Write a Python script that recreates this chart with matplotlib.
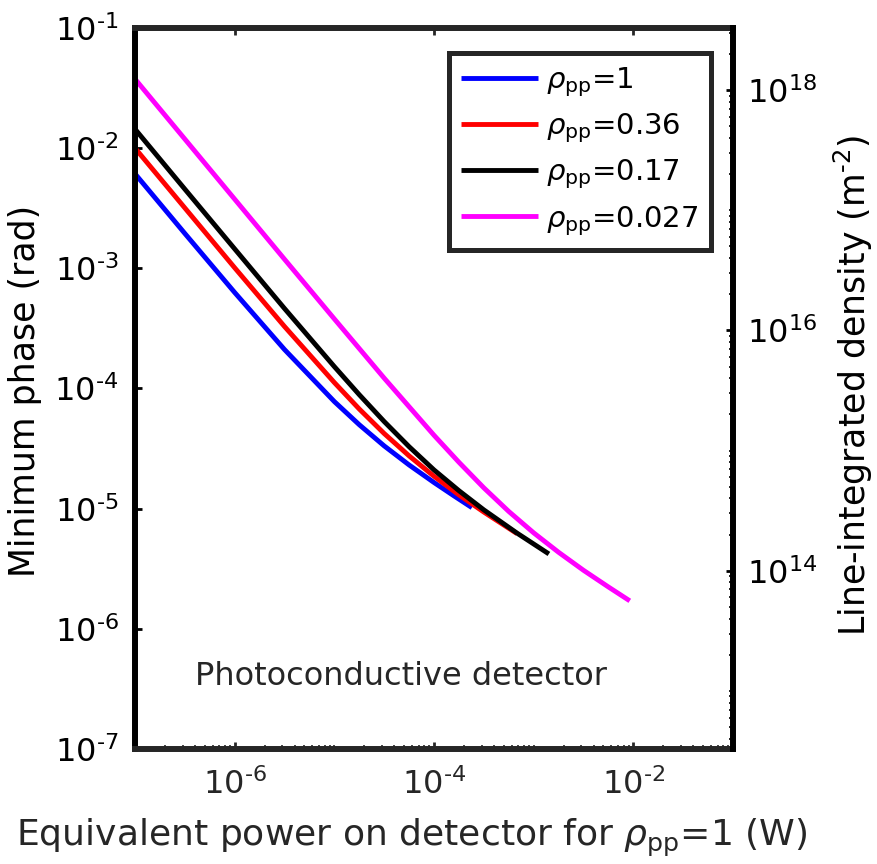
import matplotlib
matplotlib.use('Agg')
import matplotlib.pyplot as plt
import numpy as np
from matplotlib.ticker import LogLocator, NullFormatter, NullLocator

# values (x = W, y = rad)
power_1 = [1e-7, 3.16e-7, 1e-6, 3.16e-6, 1e-5, 1.78e-5, 3.16e-5, 5.62e-5, 1e-4, 1.58e-4, 2.4e-4]
phase_1 = [6.12e-3, 1.95e-3, 6.29e-4, 2.11e-4, 7.78e-5, 4.99e-5, 3.33e-5, 2.31e-5, 1.65e-5, 1.28e-5, 1.02e-5]

power_036 = [1e-7, 3.16e-7, 1e-6, 3.16e-6, 1e-5, 1.78e-5, 3.16e-5, 5.62e-5, 1e-4, 1.78e-4, 3.16e-4, 6.8e-4]
phase_036 = [1.0e-2, 3.18e-3, 1.01e-3, 3.28e-4, 1.12e-4, 6.74e-5, 4.22e-5, 2.75e-5, 1.86e-5, 1.3e-5, 9.37e-6, 6.2e-6]

power_017 = [1e-7, 3.16e-7, 1e-6, 3.16e-6, 1e-5, 1.78e-5, 3.16e-5, 5.62e-5, 1e-4, 1.78e-4, 3.16e-4, 6.8e-4, 1.42e-3]
phase_017 = [1.44e-2, 4.56e-3, 1.45e-3, 4.63e-4, 1.52e-4, 8.87e-5, 5.31e-5, 3.28e-5, 2.1e-5, 1.41e-5, 9.77e-6, 6.26e-6, 4.2e-6]

power_0027 = [1e-7, 3.16e-7, 1e-6, 3.16e-6, 1e-5, 3.16e-5, 1e-4, 1.78e-4, 3.16e-4, 5.62e-4,
              1e-3, 1.78e-3, 3.16e-3, 5.62e-3, 9.2e-3]
phase_0027 = [3.76e-2, 1.19e-2, 3.76e-3, 1.19e-3, 3.79e-4, 1.22e-4, 4.08e-5, 2.43e-5, 1.49e-5, 9.48e-6,
              6.29e-6, 4.33e-6, 3.07e-6, 2.23e-6, 1.71e-6]

labels = [r'$\rho_{\rm pp}$=1', r'$\rho_{\rm pp}$=0.36',
          r'$\rho_{\rm pp}$=0.17', r'$\rho_{\rm pp}$=0.027']
colors = ['#0000ff', '#ff0000', '#000000', '#ff00ff']

xticks = [1e-6, 1e-4, 1e-2]
xtick_labels = ['$10^{\u2010' + e + '}$' for e in ['6', '4', '2']]
yticks = [1e-7, 1e-6, 1e-5, 1e-4, 1e-3, 1e-2, 1e-1]
ytick_labels = ['$10^{\u2010' + e + '}$' for e in ['7', '6', '5', '4', '3', '2', '1']]
rticks = [1e14, 1e16, 1e18]
rtick_labels = ['$10^{14}$', '$10^{16}$', '$10^{18}$']

# phase (rad) -> line-integrated density (m^-2)
DENSITY_PER_RAD = 3.29e19

plt.rcParams['font.family'] = ['DejaVu Sans']
plt.rcParams['mathtext.fontset'] = 'dejavusans'

fig = plt.figure(figsize=(8.78, 8.64), dpi=100)
ax = fig.add_axes([0.1538, 0.1331, 0.6811, 0.8345])

series = [(power_1, phase_1), (power_036, phase_036),
          (power_017, phase_017), (power_0027, phase_0027)]
handles = []
for (px, py), c, lab in zip(series, colors, labels):
    h, = ax.plot(px, py, color=c, lw=3.5, label=lab, solid_capstyle='butt')
    handles.append(h)

ax.set_xscale('log')
ax.set_yscale('log')
ax.set_xlim(1e-7, 1e-1)
ax.set_ylim(1e-7, 1e-1)

ax2 = ax.twinx()
ax2.set_yscale('log')
ax2.set_ylim(1e-7 * DENSITY_PER_RAD, 1e-1 * DENSITY_PER_RAD)
ax2.set_yticks(rticks, rtick_labels)
ax2.yaxis.set_minor_locator(LogLocator(base=10, subs=np.arange(1, 10), numticks=30))
ax2.yaxis.set_minor_formatter(NullFormatter())

ax.set_xticks(xticks, xtick_labels)
ax.xaxis.set_minor_locator(LogLocator(base=10, subs=np.arange(1, 10), numticks=30))
ax.xaxis.set_minor_formatter(NullFormatter())
ax.set_yticks(yticks, ytick_labels)
ax.yaxis.set_minor_locator(NullLocator())

ax.tick_params(axis='x', which='major', direction='in', top=True, bottom=True,
               length=5, width=2, pad=14, labelsize=23, colors='#262626')
ax.tick_params(axis='x', which='minor', direction='in', top=False, bottom=True,
               length=3, width=1.2, colors='#262626')
ax.tick_params(axis='y', which='major', direction='in', left=True, right=False,
               length=5, width=2, pad=12, labelsize=23, colors='black')
ax2.tick_params(axis='y', which='major', direction='in', length=5, width=2,
                pad=10, labelsize=23, colors='black')
ax2.tick_params(axis='y', which='minor', direction='in', length=3, width=1.2)

for s in ['top', 'bottom']:
    ax.spines[s].set_color('#262626')
    ax.spines[s].set_linewidth(4.3)
ax.spines['left'].set_color('black')
ax.spines['left'].set_linewidth(4.3)
ax.spines['right'].set_visible(False)
for s in ['left', 'top', 'bottom']:
    ax2.spines[s].set_visible(False)
ax2.spines['right'].set_color('black')
ax2.spines['right'].set_linewidth(4.3)

ax.set_xlabel(r'Equivalent power on detector for $\rho_{\rm pp}$=1 (W)', fontsize=26, color='#262626')
ax.xaxis.set_label_coords(0.462, -0.094)
ax.set_ylabel('Minimum phase (rad)', fontsize=25)
ax.yaxis.set_label_coords(-0.1555, 0.4965)
ax2.set_ylabel('Line-integrated density (m$^{\u2010' + '2}$)', fontsize=25)
ax2.yaxis.set_label_coords(1.165, 0.505)

ax.text(0.445, 0.1, 'Photoconductive detector', transform=ax.transAxes,
        ha='center', va='center', fontsize=23, color='#262626')

leg = ax2.legend(handles, labels, loc='upper right', bbox_to_anchor=(0.963, 0.965),
                 borderaxespad=0, fontsize=21, handlelength=2.64, handletextpad=0.27,
                 borderpad=0.42, labelspacing=0.43, fancybox=False, framealpha=1,
                 edgecolor='#262626')
leg.get_frame().set_linewidth(3.6)

fig.savefig('out.png', dpi=100)
